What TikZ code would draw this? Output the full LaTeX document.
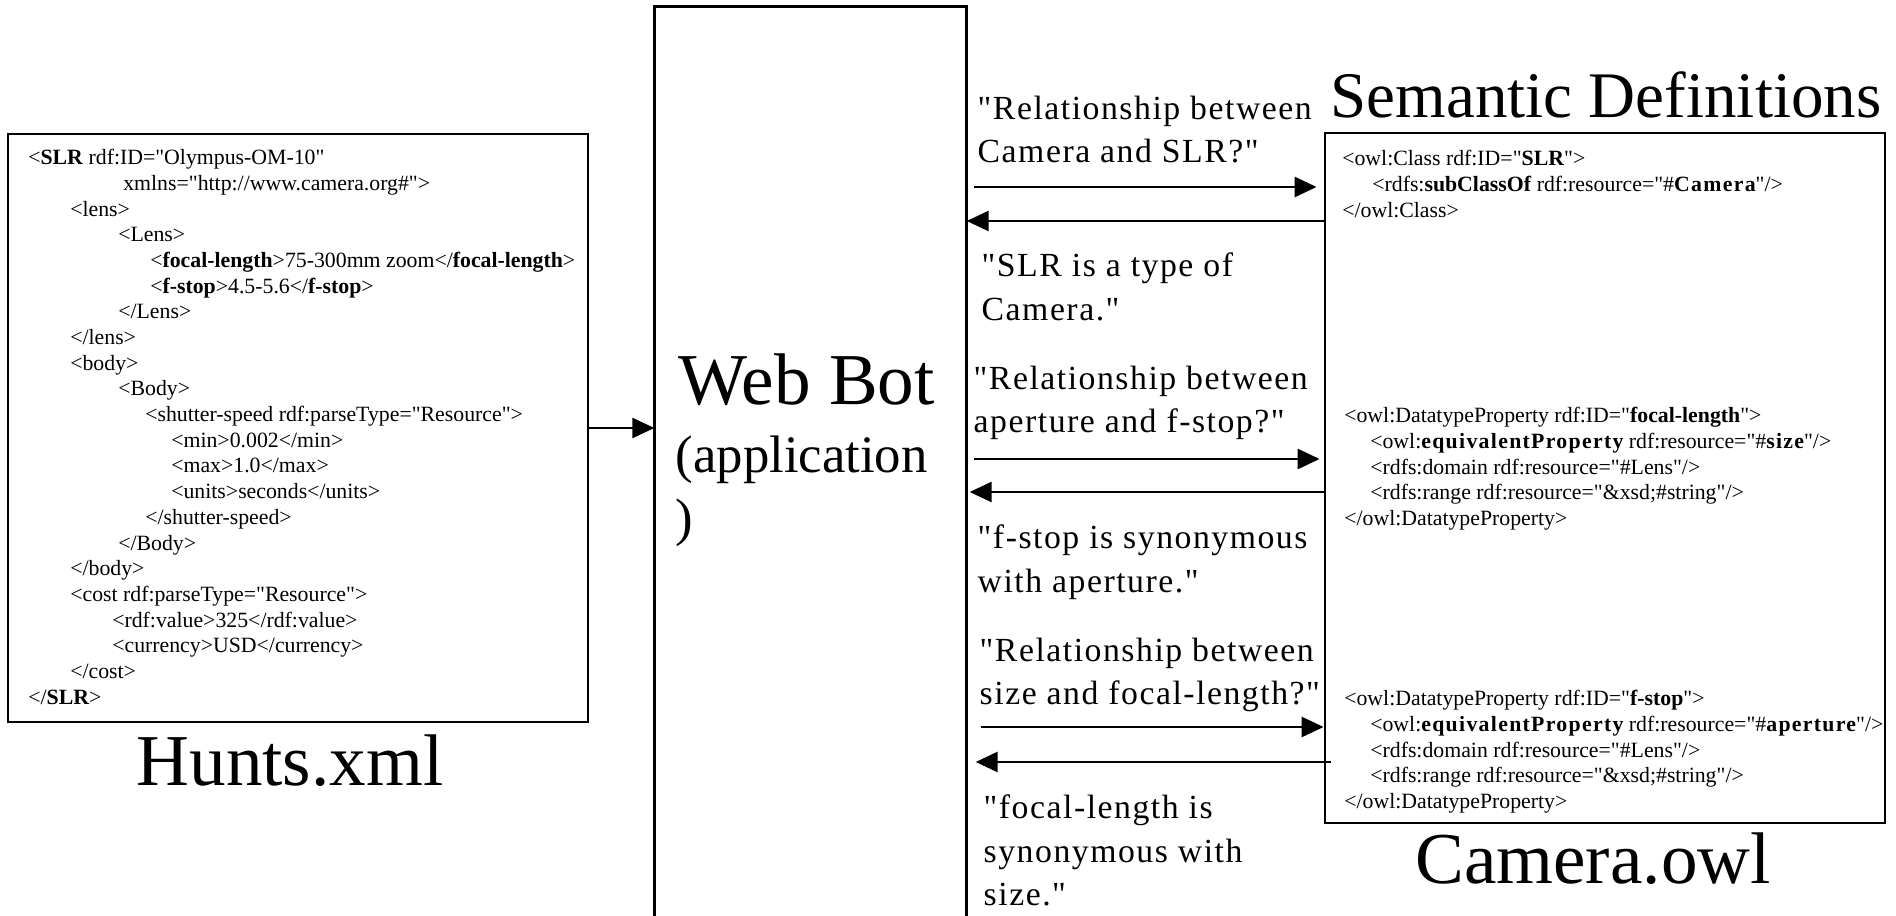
\documentclass[tikz,border=0pt]{standalone}
\usepackage{fontspec}
\setmainfont{Liberation Serif}[Ligatures = TeXOff]
\newfontfamily\msgfont{Liberation Serif}[LetterSpace = 4.5]
\newfontfamily\owlfont{Liberation Serif}[LetterSpace = 6]
\newcommand\owlbold[1]{{\owlfont\bfseries #1}}
\usetikzlibrary{arrows.meta}

\tikzset{
    filebox/.style = {draw, line width = 0.8pt, inner sep = 0pt},
    code/.style = {anchor = north west, align = left, inner sep = 0pt, font = \fontsize{6.2}{7.31}\selectfont},
    msg/.style = {anchor = north west, align = left, inner sep = 0pt, font = \msgfont\fontsize{9.6}{12.4}\selectfont},
    title/.style = {anchor = base, inner sep = 0pt, font = \fontsize{20.8}{24}\selectfont},
    flow/.style = {line width = 0.8pt, -{Triangle[length = 2.2mm, width = 2mm]}}
}

\begin{document}
\begin{tikzpicture}
        \useasboundingbox (0,0) rectangle (18.96,-9.16);

        \node[filebox, minimum width = 5.80cm, minimum height = 5.88cm] (xmlfile) at (2.98,-4.28) {};
        \node[minimum width = 3.11cm, minimum height = 9.09cm, inner sep = 0pt] (webbot) at (8.105,-4.615) {};
        \node[filebox, minimum width = 5.60cm, minimum height = 6.90cm] (owlfile) at (16.05,-4.78) {};
        \draw[line width = 0.8pt] (webbot.south west) |- (webbot.north east) -- (webbot.south east);

        \node[code] (xmlcode) at ([xshift = 0.21cm, yshift = -0.16cm]xmlfile.north west) {<\textbf{SLR} rdf:ID="Olympus-OM-10"\\
            \hspace*{0.95cm}xmlns="http://www.camera.org\#">\\
            \hspace*{0.42cm}<lens>\\
            \hspace*{0.90cm}<Lens>\\
            \hspace*{1.22cm}<\textbf{focal-length}>75-300mm zoom</\textbf{focal-length}>\\
            \hspace*{1.22cm}<\textbf{f-stop}>4.5-5.6</\textbf{f-stop}>\\
            \hspace*{0.90cm}</Lens>\\
            \hspace*{0.42cm}</lens>\\
            \hspace*{0.42cm}<body>\\
            \hspace*{0.90cm}<Body>\\
            \hspace*{1.17cm}<shutter-speed rdf:parseType="Resource">\\
            \hspace*{1.43cm}<min>0.002</min>\\
            \hspace*{1.43cm}<max>1.0</max>\\
            \hspace*{1.43cm}<units>seconds</units>\\
            \hspace*{1.17cm}</shutter-speed>\\
            \hspace*{0.90cm}</Body>\\
            \hspace*{0.42cm}</body>\\
            \hspace*{0.42cm}<cost rdf:parseType="Resource">\\
            \hspace*{0.84cm}<rdf:value>325</rdf:value>\\
            \hspace*{0.84cm}<currency>USD</currency>\\
            \hspace*{0.42cm}</cost>\\
            </\textbf{SLR}>};

        \node[code] (owlclass) at ([xshift = 0.18cm, yshift = -0.18cm]owlfile.north west) {<owl:Class rdf:ID="\textbf{SLR}">\\
            \hspace*{0.30cm}<rdfs:\textbf{subClassOf} rdf:resource="\#\owlbold{Camera}"/>\\
            </owl:Class>};
        \node[code] (owlfocal) at ([xshift = 0.20cm, yshift = -2.75cm]owlfile.north west) {<owl:DatatypeProperty rdf:ID="\textbf{focal-length}">\\
            \hspace*{0.26cm}<owl:\owlbold{equivalentProperty} rdf:resource="\#\owlbold{size}"/>\\
            \hspace*{0.26cm}<rdfs:domain rdf:resource="\#Lens"/>\\
            \hspace*{0.26cm}<rdfs:range rdf:resource="\&xsd;\#string"/>\\
            </owl:DatatypeProperty>};
        \node[code] (owlfstop) at ([xshift = 0.20cm, yshift = -5.58cm]owlfile.north west) {<owl:DatatypeProperty rdf:ID="\textbf{f-stop}">\\
            \hspace*{0.26cm}<owl:\owlbold{equivalentProperty} rdf:resource="\#\owlbold{aperture}"/>\\
            \hspace*{0.26cm}<rdfs:domain rdf:resource="\#Lens"/>\\
            \hspace*{0.26cm}<rdfs:range rdf:resource="\&xsd;\#string"/>\\
            </owl:DatatypeProperty>};

        \node[anchor = base west, inner sep = 0pt, font = \fontsize{20.8}{24}\selectfont] (botname) at (6.78,-4.05) {Web Bot};
        \node[anchor = base west, inner sep = 0pt, font = \fontsize{15}{18}\selectfont] (botrole) at (6.75,-4.73) {(application};
        \node[anchor = base west, inner sep = 0pt, font = \fontsize{15}{18}\selectfont] (botparen) at (6.75,-5.36) {)};

        \node[title] (hunts) at (2.90,-7.86) {Hunts.xml};
        \node[title] (camowl) at (15.93,-8.84) {Camera.owl};
        \node[title, font = \fontsize{18.5}{22}\selectfont] (semdef) at (16.06,-1.18) {Semantic Definitions};

        \node[msg] (ask1) at (9.77,-0.95) {"Relationship between\\Camera and SLR?"};
        \node[msg] (reply1) at (9.81,-2.52) {"SLR is a type of\\Camera."};
        \node[msg] (ask2) at (9.73,-3.65) {"Relationship between\\aperture and f-stop?"};
        \node[msg] (reply2) at (9.77,-5.24) {"f-stop is synonymous\\with aperture."};
        \node[msg] (ask3) at (9.79,-6.37) {"Relationship between\\size and focal-length?"};
        \node[msg] (reply3) at (9.83,-7.94) {"focal-length is\\synonymous with\\size."};

        \draw[flow] (xmlfile.east) -- (xmlfile.east -| webbot.west);
        \draw[flow] ([xshift = 0.07cm]webbot.east |- 0,-1.87) -- ([xshift = -0.07cm]owlfile.west |- 0,-1.87);
        \draw[flow] (owlfile.west |- 0,-2.21) -- (webbot.east |- 0,-2.21);
        \draw[flow] ([xshift = 0.07cm]webbot.east |- 0,-4.59) -- ([xshift = -0.04cm]owlfile.west |- 0,-4.59);
        \draw[flow] (owlfile.west |- 0,-4.92) -- ([xshift = 0.03cm]webbot.east |- 0,-4.92);
        \draw[flow] ([xshift = 0.14cm]webbot.east |- 0,-7.27) -- (owlfile.west |- 0,-7.27);
        \draw[flow] ([xshift = 0.07cm]owlfile.west |- 0,-7.62) -- ([xshift = 0.09cm]webbot.east |- 0,-7.62);
    \end{tikzpicture}
\end{document}
